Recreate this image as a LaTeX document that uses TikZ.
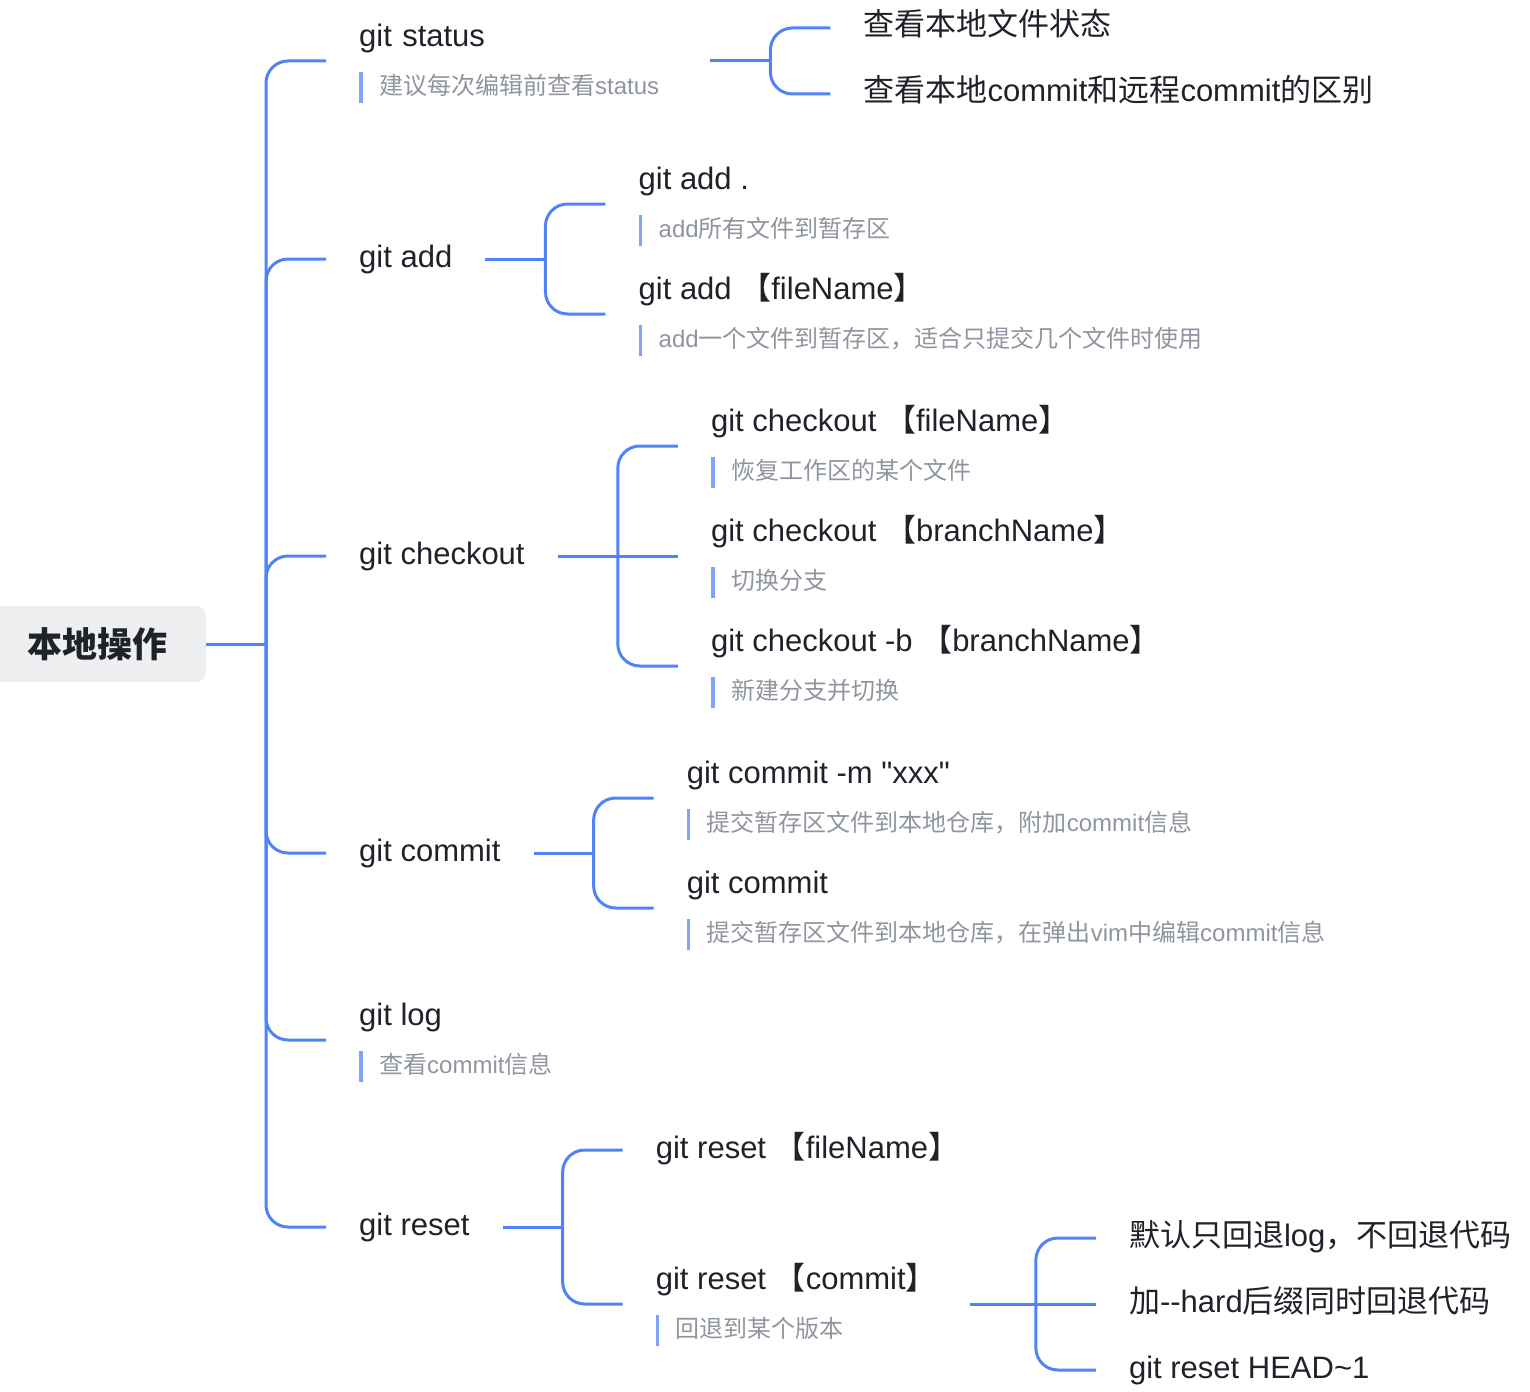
\documentclass[tikz,border=0pt]{standalone}
\usepackage{fontspec}
\setmainfont{Liberation Sans}
\newfontfamily\cjk{Noto Sans CJK SC}
\usepackage{tikz}
\usetikzlibrary{
    positioning
}

\definecolor{linkblue}{RGB}{80,132,246}
\definecolor{barblue}{RGB}{130,162,244}
\definecolor{ink}{RGB}{31,35,41}
\definecolor{notegray}{RGB}{143,149,158}
\definecolor{rootfill}{RGB}{238,239,241}

\newcommand{\zh}[1]{{\cjk #1}}
\newcommand{\notebar}[1]{{\fontsize{24pt}{29pt}\selectfont\color{notegray}\textcolor{barblue}{\rule[-8pt]{3.5pt}{31pt}}\hspace{16.5pt}#1}}
\newcommand{\withnote}[2]{\begin{tabular}{@{}l@{}}\rule{0pt}{31pt}#1\\[10pt]\notebar{#2}\end{tabular}}

\begin{document}
\begin{tikzpicture}[
    x=1pt, y=-1pt,
    rootbox/.style={fill=rootfill, rounded corners=10pt, minimum width=217pt, minimum height=76pt, text=ink, font=\fontsize{35pt}{42pt}\selectfont},
    topic/.style={anchor=west, inner xsep=33pt, inner ysep=0pt, text=ink, font=\fontsize{31pt}{38pt}\selectfont},
    leaf/.style={topic, text height=27pt, text depth=11pt},
    link/.style={draw=linkblue, line width=3pt, rounded corners=22pt}
]
\useasboundingbox (0,0) rectangle (1530,1391);

\node[rootbox] (root) at (97.5,644) {\zh{\bfseries 本地操作}};
\coordinate (trunk) at (266,644);

\node[topic, text width=318pt] (status) at (326,61) {\withnote{git status}{\zh{建议每次编辑前查看}status}};
\node[leaf] (add) at (326,259) {git add};
\node[leaf] (checkout) at (326,556) {git checkout};
\node[leaf] (commit) at (326,853) {git commit};
\node[topic] (log) at (326,1040) {\withnote{git log}{\zh{查看}commit\zh{信息}}};
\node[leaf] (reset) at (326,1227) {git reset};

\draw[link] (root) -- (trunk);
\foreach \t in {status,add,checkout,commit,log,reset}
    \draw[link] (trunk) |- (\t.west);

% git status
\coordinate[right=60pt of status] (statusj);
\node[leaf, right=60pt of statusj, yshift=33pt] (status1) {\zh{查看本地文件状态}};
\node[leaf, right=60pt of statusj, yshift=-33pt] (status2) {\zh{查看本地}commit\zh{和远程}commit\zh{的区别}};

% git add
\coordinate[right=60pt of add] (addj);
\node[topic, right=60pt of addj, yshift=55pt] (add1) {\withnote{git add .}{add\zh{所有文件到暂存区}}};
\node[topic, right=60pt of addj, yshift=-55pt] (add2) {\withnote{git add \zh{【}fileName\zh{】}}{add\zh{一个文件到暂存区，适合只提交几个文件时使用}}};

% git checkout
\coordinate[right=60pt of checkout] (checkoutj);
\node[topic, right=60pt of checkoutj, yshift=110pt] (checkout1) {\withnote{git checkout \zh{【}fileName\zh{】}}{\zh{恢复工作区的某个文件}}};
\node[topic, right=60pt of checkoutj] (checkout2) {\withnote{git checkout \zh{【}branchName\zh{】}}{\zh{切换分支}}};
\node[topic, right=60pt of checkoutj, yshift=-110pt] (checkout3) {\withnote{git checkout -b \zh{【}branchName\zh{】}}{\zh{新建分支并切换}}};

% git commit
\coordinate[right=60pt of commit] (commitj);
\node[topic, right=60pt of commitj, yshift=55pt] (commit1) {\withnote{git commit -m \textquotedbl xxx\textquotedbl}{\zh{提交暂存区文件到本地仓库，附加}commit\zh{信息}}};
\node[topic, right=60pt of commitj, yshift=-55pt] (commit2) {\withnote{git commit}{\zh{提交暂存区文件到本地仓库，在弹出}vim\zh{中编辑}commit\zh{信息}}};

% git reset
\coordinate[right=60pt of reset] (resetj);
\node[leaf, right=60pt of resetj, yshift=77pt] (reset1) {git reset \zh{【}fileName\zh{】}};
\node[topic, right=60pt of resetj, yshift=-77pt] (reset2) {\withnote{git reset \zh{【}commit\zh{】}}{\zh{回退到某个版本}}};

\coordinate[right=66pt of reset2] (reset2j);
\node[leaf, right=60pt of reset2j, yshift=66pt] (back1) {\zh{默认只回退}log\zh{，不回退代码}};
\node[leaf, right=60pt of reset2j] (back2) {\zh{加}-{}-hard\zh{后缀同时回退代码}};
\node[leaf, right=60pt of reset2j, yshift=-66pt] (back3) {git reset HEAD\textasciitilde1};

\draw[link] (status) -- (statusj);
\draw[link] (add) -- (addj);
\draw[link] (checkout) -- (checkoutj);
\draw[link] (commit) -- (commitj);
\draw[link] (reset) -- (resetj);
\draw[link] (reset2) -- (reset2j);
\foreach \c in {status1,status2}
    \draw[link] (statusj) |- (\c.west);
\foreach \c in {add1,add2}
    \draw[link] (addj) |- (\c.west);
\foreach \c in {checkout1,checkout3}
    \draw[link] (checkoutj) |- (\c.west);
\draw[link] (checkoutj) -- (checkout2.west);
\foreach \c in {commit1,commit2}
    \draw[link] (commitj) |- (\c.west);
\foreach \c in {reset1,reset2}
    \draw[link] (resetj) |- (\c.west);
\foreach \c in {back1,back3}
    \draw[link] (reset2j) |- (\c.west);
\draw[link] (reset2j) -- (back2.west);
\end{tikzpicture}
\end{document}
